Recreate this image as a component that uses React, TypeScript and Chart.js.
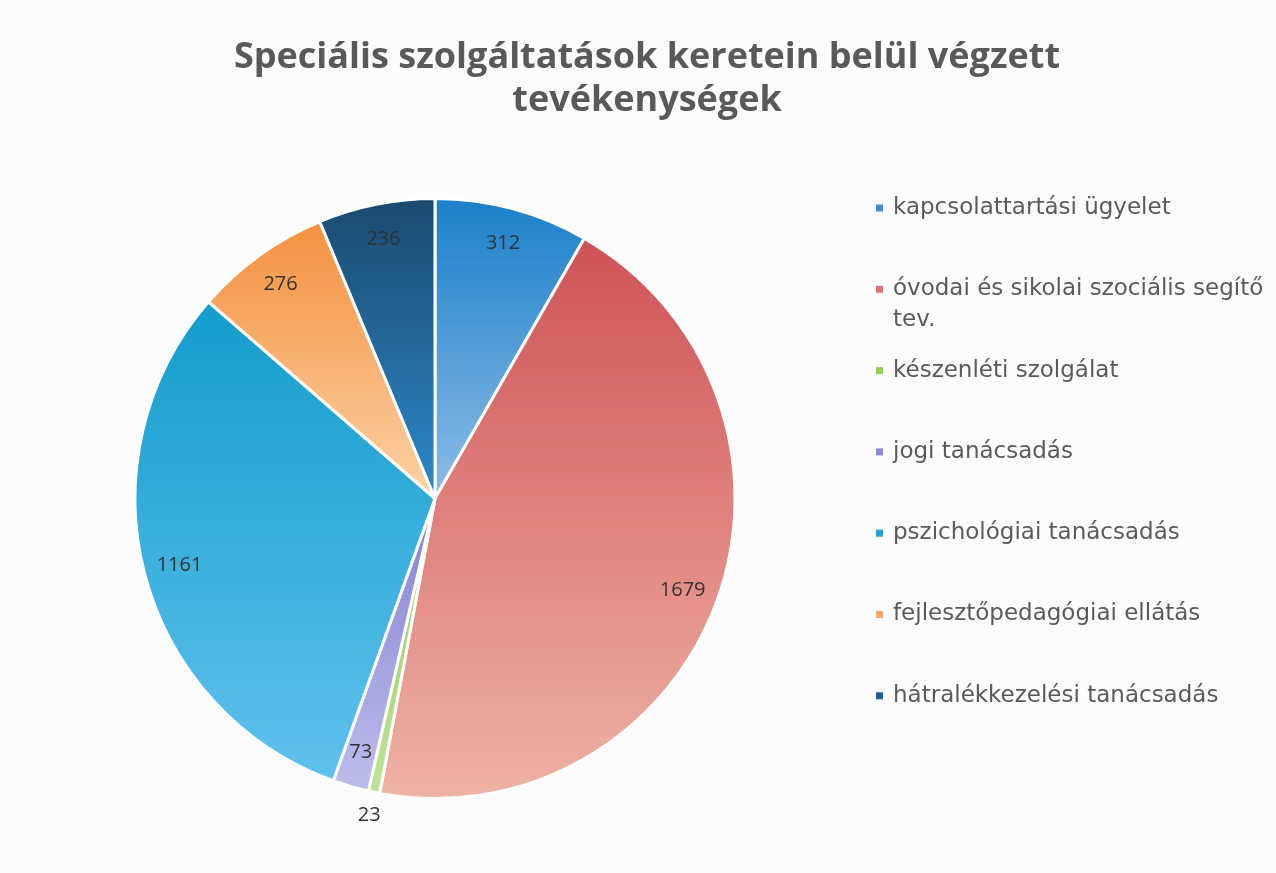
import React, { useEffect, useRef } from "react";
import { Chart, registerables, layouts } from "chart.js";

Chart.register(...registerables);

const titleLines = ["Speciális szolgáltatások keretein belül végzett", "tevékenységek"];

const categories = [
  "kapcsolattartási ügyelet",
  "óvodai és sikolai szociális segítő tev.",
  "készenléti szolgálat",
  "jogi tanácsadás",
  "pszichológiai tanácsadás",
  "fejlesztőpedagógiai ellátás",
  "hátralékkezelési tanácsadás",
];

const values = [312, 1679, 23, 73, 1161, 276, 236];

const gradientTop = ["#1a80c9", "#cf5257", "#8cca55", "#8282cf", "#139dcb", "#f4903f", "#1b4a6e"];
const gradientBottom = ["#8dbbe7", "#efb3a4", "#bfe39a", "#bdbdec", "#60c1ee", "#fcd2a4", "#2c88cb"];
const legendColors = ["#3a8fd6", "#e07474", "#92d050", "#8a8ad8", "#1aa4d8", "#f8a860", "#1e5f96"];

const LEGEND_BOX_W = 424;
const LEGEND_STEP = 81.3;

function sliceGradient(ctx: any) {
  const chart = ctx.chart;
  const area = chart.chartArea;
  const i = ctx.dataIndex ?? 0;
  if (!area) return gradientTop[i];
  const cx = (area.left + area.right) / 2;
  const cy = (area.top + area.bottom) / 2;
  const r = Math.min(area.width, area.height) / 2;
  const total = values.reduce((a, b) => a + b, 0);
  let start = -Math.PI / 2;
  for (let j = 0; j < i; j++) start += (values[j] / total) * Math.PI * 2;
  const end = start + (values[i] / total) * Math.PI * 2;
  let ymin = cy;
  let ymax = cy;
  for (let k = 0; k <= 60; k++) {
    const a = start + ((end - start) * k) / 60;
    const y = cy + r * Math.sin(a);
    if (y < ymin) ymin = y;
    if (y > ymax) ymax = y;
  }
  if (ymax - ymin < 1) ymax = ymin + 1;
  const g = chart.ctx.createLinearGradient(0, ymin, 0, ymax);
  g.addColorStop(0, gradientTop[i]);
  g.addColorStop(1, gradientBottom[i]);
  return g;
}

const valueLabelPlugin = {
  id: "valueLabels",
  afterDatasetsDraw(chart: any) {
    const meta = chart.getDatasetMeta(0);
    const data = chart.data.datasets[0].data as number[];
    const total = data.reduce((a, b) => a + b, 0);
    const ctx = chart.ctx;
    ctx.save();
    ctx.font = '20px "Open Sans"';
    ctx.fillStyle = "#333333";
    ctx.textAlign = "center";
    ctx.textBaseline = "middle";
    meta.data.forEach((arc: any, i: number) => {
      const { x, y, startAngle, endAngle, outerRadius } = arc.getProps(
        ["x", "y", "startAngle", "endAngle", "outerRadius"],
        true
      );
      const mid = (startAngle + endAngle) / 2;
      const f = data[i] / total < 0.01 ? 1.08 : 0.88;
      ctx.fillText(String(data[i]), x + Math.cos(mid) * outerRadius * f, y + Math.sin(mid) * outerRadius * f);
    });
    ctx.restore();
  },
};

function wrapText(ctx: CanvasRenderingContext2D, text: string, maxW: number): string[] {
  const words = text.split(" ");
  const lines: string[] = [];
  let cur = "";
  for (const w of words) {
    const test = cur ? cur + " " + w : w;
    if (ctx.measureText(test).width > maxW && cur) {
      lines.push(cur);
      cur = w;
    } else cur = test;
  }
  if (cur) lines.push(cur);
  return lines;
}

const sideLegendPlugin = {
  id: "sideLegend",
  beforeInit(chart: any) {
    const box: any = {
      position: "right",
      weight: 0,
      fullSize: false,
      options: { stackWeight: 1 },
      left: 0,
      top: 0,
      right: 0,
      bottom: 0,
      width: 0,
      height: 0,
      isHorizontal() {
        return false;
      },
      update(maxWidth: number, maxHeight: number) {
        this.width = LEGEND_BOX_W;
        this.height = maxHeight;
        return { width: this.width, height: this.height };
      },
      draw() {
        const ctx = chart.ctx as CanvasRenderingContext2D;
        const labels = chart.data.labels as string[];
        ctx.save();
        ctx.font = '23px "DejaVu Sans"';
        ctx.textBaseline = "middle";
        ctx.textAlign = "left";
        const textX = this.left + 41;
        const maxW = this.left + this.width - textX - 1;
        labels.forEach((lab, i) => {
          const y0 = this.top + 11 + i * LEGEND_STEP;
          ctx.fillStyle = legendColors[i];
          ctx.fillRect(this.left + 24, y0 - 3.5, 7, 7);
          ctx.fillStyle = "#5a5a5a";
          const lines = wrapText(ctx, lab, maxW);
          lines.forEach((ln, k) => ctx.fillText(ln, textX, y0 + k * 31));
        });
        ctx.restore();
      },
    };
    layouts.addBox(chart, box);
  },
};

export default function App() {
  const ref = useRef<HTMLCanvasElement | null>(null);
  useEffect(() => {
    if (!ref.current) return;
    const chart = new Chart(ref.current, {
      type: "pie",
      data: {
        labels: categories,
        datasets: [
          {
            data: values,
            backgroundColor: sliceGradient as any,
            borderColor: "#ffffff",
            borderWidth: 3,
          },
        ],
      },
      options: {
        animation: false,
        responsive: true,
        maintainAspectRatio: false,
        layout: { padding: { left: 18, right: 0, top: 0, bottom: 73 } },
        plugins: {
          legend: { display: false },
          tooltip: { enabled: false },
          title: {
            display: true,
            text: titleLines,
            color: "#595959",
            font: { family: '"Open Sans"', size: 36, weight: "bold", lineHeight: 1.2 },
            padding: { top: 36, bottom: 197 - 36 - 2 * 36 * 1.2 },
          },
        },
      },
      plugins: [valueLabelPlugin, sideLegendPlugin],
    });
    return () => chart.destroy();
  }, []);
  return (
    <div
      style={{
        position: "absolute",
        left: 0,
        top: 0,
        width: 1276,
        height: 873,
        background: "#fcfcfc",
      }}
    >
      <canvas ref={ref} />
    </div>
  );
}
